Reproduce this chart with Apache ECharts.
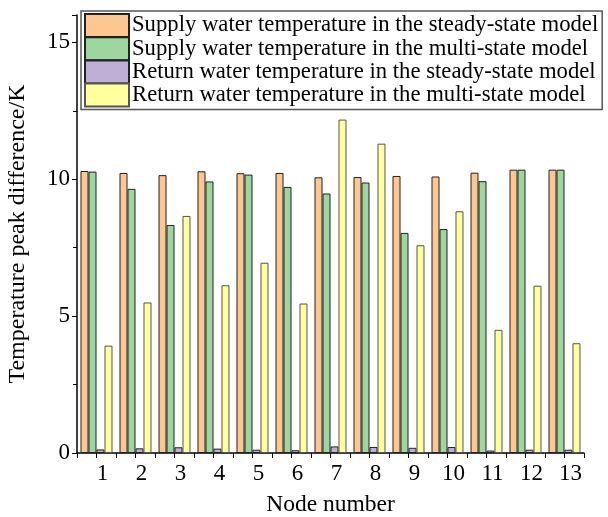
<!DOCTYPE html>
<html>
<head>
<meta charset="utf-8">
<script src="https://cdn.jsdelivr.net/npm/echarts@6/dist/echarts.min.js"></script>
<style>html,body{margin:0;padding:0;background:#fff;}#c{width:608px;height:517px;}</style>
</head>
<body>
<div id="c"></div>
<script>
const categories = ['1','2','3','4','5','6','7','8','9','10','11','12','13'];
const seriesNames = [
  'Supply water temperature in the steady-state model',
  'Supply water temperature in the multi-state model',
  'Return water temperature in the steady-state model',
  'Return water temperature in the multi-state model'
];
const supplySteady = [10.30, 10.23, 10.15, 10.29, 10.22, 10.23, 10.07, 10.08, 10.12, 10.10, 10.24, 10.35, 10.35];
const supplyMulti  = [10.28, 9.65, 8.33, 9.92, 10.17, 9.72, 9.48, 9.88, 8.04, 8.18, 9.93, 10.35, 10.35];
const returnSteady = [0.13, 0.17, 0.21, 0.16, 0.12, 0.10, 0.24, 0.22, 0.19, 0.22, 0.09, 0.12, 0.12];
const returnMulti  = [3.92, 5.50, 8.66, 6.13, 6.95, 5.46, 12.18, 11.30, 7.59, 8.83, 4.50, 6.11, 4.01];
const colors = ['#FDC792', '#9DD69E', '#BEAFD7', '#FFFF9E'];
const yTicks = [0, 5, 10, 15];

const font = '"Liberation Serif", "Times New Roman", serif';
const chart = echarts.init(document.getElementById('c'));
const allData = [supplySteady, supplyMulti, returnSteady, returnMulti];
chart.setOption({
  animation: false,
  backgroundColor: '#fff',
  grid: {left: 77, right: 24, top: 15, bottom: 64, outerBoundsMode: 'none', containLabel: false},
  legend: {
    orient: 'vertical', left: 81, top: 11,
    icon: 'rect',
    itemWidth: 44, itemHeight: 23, itemGap: -1.8,
    padding: [2, 4, 2, 3],
    borderColor: '#555', borderWidth: 1.5,
    backgroundColor: '#fff',
    textStyle: {fontFamily: font, fontSize: 22.7, color: '#000', padding: [0,0,0,-2]},
    data: seriesNames
  },
  xAxis: [{
    type: 'category', data: categories,
    axisLine: {lineStyle: {color: '#000', width: 1.5}},
    axisTick: {show: true, alignWithLabel: false, length: 5, lineStyle: {color: '#000', width: 1}},
    axisLabel: {fontFamily: font, fontSize: 23, color: '#000', margin: 9, padding: [0,0,0,12]},
    name: 'Node number', nameLocation: 'middle', nameGap: 40,
    nameTextStyle: {fontFamily: font, fontSize: 23.5, color: '#000'},
    splitLine: {show: false}
  }, {
    type: 'category', data: categories, position: 'bottom',
    axisLine: {show: false},
    axisTick: {show: true, alignWithLabel: true, length: 5, lineStyle: {color: '#000', width: 1}},
    axisLabel: {show: false},
    splitLine: {show: false}
  }],
  yAxis: {
    type: 'value', min: 0, max: 16, interval: 5,
    axisLine: {show: true, lineStyle: {color: '#000', width: 1.5}},
    axisTick: {show: true, length: 5, lineStyle: {color: '#000', width: 1}},
    minorTick: {show: true, splitNumber: 2, length: 4, lineStyle: {color: '#000', width: 1}},
    axisLabel: {fontFamily: font, fontSize: 23, color: '#000', margin: 7,
      formatter: v => yTicks.includes(v) ? String(v) : ''},
    splitLine: {show: false},
    name: 'Temperature peak difference/K', nameLocation: 'middle', nameGap: 47,
    nameTextStyle: {fontFamily: font, fontSize: 24, color: '#000'}
  },
  series: seriesNames.map((n, i) => ({
    name: n, type: 'bar', data: allData[i],
    barGap: '0%', barCategoryGap: '18%',
    itemStyle: {color: colors[i], borderColor: i === 3 ? '#555' : '#222', borderWidth: 1}
  }))
});
</script>
</body>
</html>
